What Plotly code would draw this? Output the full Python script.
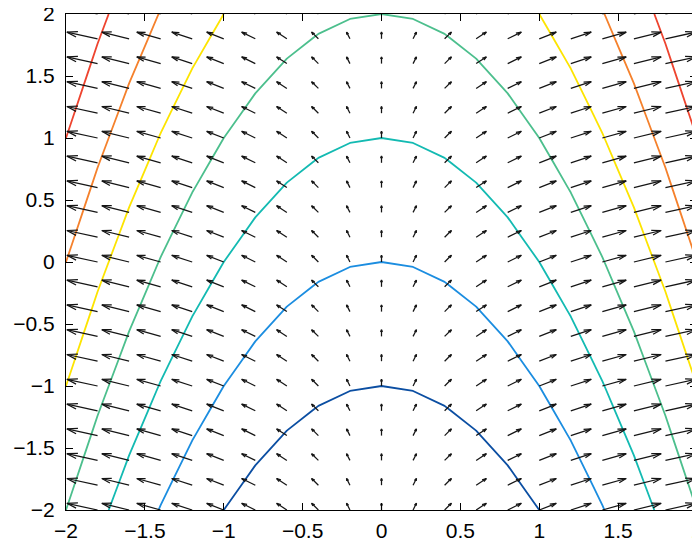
import numpy as np
import plotly.graph_objects as go

# grid of the field (MATLAB meshgrid -2:0.2:2)
x_vals = np.round(np.arange(-2, 2.0001, 0.2), 10)
y_vals = np.round(np.arange(-2, 2.0001, 0.2), 10)

# contour levels of f(x, y) = y + x^2 and their colours
levels = [-1, 0, 1, 2, 3, 4, 5]
level_colors = ["#0b4ea2", "#1b8de0", "#13bab2", "#4cbf8d", "#fde400", "#f5812c", "#ee442f"]

tick_vals = [-2, -1.5, -1, -0.5, 0, 0.5, 1, 1.5, 2]
tick_text = ["\u22122", "\u22121.5", "\u22121", "\u22120.5", "0", "0.5", "1", "1.5", "2"]

X, Y = np.meshgrid(x_vals, y_vals)
Z = Y + X ** 2
U = 2 * X            # gradient components
V = np.ones_like(Y)

# MATLAB-like quiver scaling
scale = 0.054
alpha, beta = 0.33, 0.33
qx, qy = [], []
for xi, yi, ui, vi in zip(X.ravel(), Y.ravel(), U.ravel(), V.ravel()):
    u, v = ui * scale, vi * scale
    tx, ty = xi + u, yi + v
    qx += [xi, tx, None]
    qy += [yi, ty, None]
    qx += [tx - alpha * (u + beta * v), tx, tx - alpha * (u - beta * v), None]
    qy += [ty - alpha * (v - beta * u), ty, ty - alpha * (v + beta * u), None]

fig = go.Figure()
fig.add_trace(go.Scatter(x=qx, y=qy, mode="lines",
                         line=dict(color="#151515", width=1.25), hoverinfo="skip",
                         showlegend=False))
for lev, col in zip(levels, level_colors):
    fig.add_trace(go.Contour(x=x_vals, y=y_vals, z=Z,
                             contours=dict(start=lev, end=lev, size=1, coloring="none"),
                             line=dict(color=col, width=1.8, smoothing=0),
                             showscale=False, hoverinfo="skip"))

axis_common = dict(range=[-2, 2], showline=True, linecolor="black", linewidth=1,
                   mirror="ticks", ticks="inside", ticklen=7, tickcolor="black",
                   tickvals=tick_vals, ticktext=tick_text, showgrid=False,
                   zeroline=False, automargin=False, ticklabeloverflow="allow",
                   tickfont=dict(family="Liberation Sans", size=21, color="black"))
fig.update_layout(
    width=700, height=541,
    margin=dict(l=58, r=11, t=6, b=39),
    paper_bgcolor="white", plot_bgcolor="white",
    xaxis=dict(**axis_common, ticklabelstandoff=2),
    yaxis=dict(**axis_common, ticklabelstandoff=6),
    showlegend=False,
)
fig.write_html("out.html")
